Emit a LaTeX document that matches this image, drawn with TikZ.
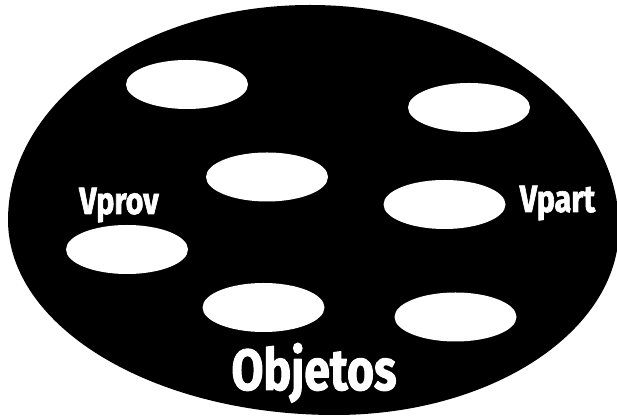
\documentclass[tikz,border=0pt]{standalone}
\usepackage{fontspec}
\newfontfamily\labelfont[FakeStretch=0.8,FakeBold=1.6]{Fira Sans}
\definecolor{ink}{RGB}{0,0,0}
\definecolor{paper}{RGB}{255,255,255}

\begin{document}
\begin{tikzpicture}[
  x=0.5pt,
  y=-0.5pt,
  line join=round,
  hole/.style={
    fill=paper
  },
  setlabel/.style={
    font=\labelfont\bfseries\fontsize{19}{19}\selectfont,
    text=paper,
    anchor=base,
    inner sep=0pt
  },
  bigsetlabel/.style={
    setlabel,
    font=\labelfont\bfseries\fontsize{29}{29}\selectfont
  }
]
\useasboundingbox (0,0) rectangle (617,416);

% Outer set: four quarter ellipses, fuller towards the lower right.
\fill[ink] (8,220)
  arc[start angle=180,end angle=270,x radius=302,y radius=215]
  arc[start angle=270,end angle=360,x radius=309,y radius=223]
  arc[start angle=0,end angle=90,x radius=284,y radius=187]
  arc[start angle=90,end angle=180,x radius=327,y radius=195]
  -- cycle;

% Seven objects: white ellipses of equal size.
\foreach \cx/\cy in {187/84.5, 469/107.5, 267/177, 444.5/204.5,
                     127/249.5, 263.5/307.5, 455.5/317} {
  \fill[hole] (\cx,\cy) ellipse (61 and 24.5);
}

% Labels.
\node[setlabel] (vprov) at (119,214) {Vprov};
\node[setlabel] (vpart) at (557.5,212) {Vpart};
\node[bigsetlabel] (objetos) at (314,390) {Objetos};

\end{tikzpicture}
\end{document}
